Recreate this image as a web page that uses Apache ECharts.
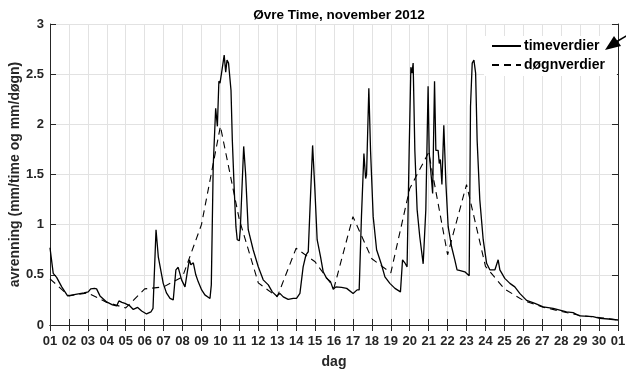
<!DOCTYPE html>
<html>
<head>
<meta charset="utf-8">
<script src="https://cdn.jsdelivr.net/npm/echarts@6/dist/echarts.min.js"></script>
<style>
  html, body { margin: 0; padding: 0; background: #fff; }
  #main { width: 626px; height: 370px; }
</style>
</head>
<body>
<div id="main"></div>
<script>
// timeverdier: tidspunkt (dag i november) og avrenning
var hourT = [1.00, 1.17, 1.35, 1.62, 1.93, 2.20, 2.50, 2.80, 3.02, 3.15, 3.23, 3.35, 3.46, 3.64, 3.99,
  4.30, 4.52, 4.64, 4.80, 4.96, 5.22, 5.40, 5.63, 5.84, 6.10, 6.33, 6.44, 6.60, 6.72, 6.98,
  7.15, 7.34, 7.51, 7.65, 7.77, 7.95, 8.13, 8.27, 8.36, 8.44, 8.57, 8.70, 8.83, 9.01, 9.18,
  9.45, 9.52, 9.62, 9.75, 9.84, 9.92, 9.98, 10.06, 10.20, 10.28, 10.35, 10.43, 10.49, 10.56, 10.63,
  10.73, 10.82, 10.89, 11.00, 11.05, 11.23, 11.33, 11.47, 11.73, 12.00, 12.26, 12.53, 12.74, 12.97, 13.14,
  13.32, 13.58, 13.85, 14.02, 14.20, 14.37, 14.52, 14.64, 14.73, 14.87, 14.99, 15.11, 15.29, 15.43, 15.61,
  15.82, 15.96, 16.10, 16.40, 16.67, 17.01, 17.22, 17.33, 17.45, 17.58, 17.67, 17.72, 17.84, 17.93, 18.07,
  18.25, 18.51, 18.69, 18.95, 19.22, 19.51, 19.62, 19.74, 19.86, 19.97, 20.06, 20.12, 20.18, 20.27, 20.39,
  20.53, 20.71, 20.85, 20.97, 21.03, 21.15, 21.21, 21.31, 21.38, 21.50, 21.56, 21.62, 21.70, 21.80, 21.91,
  22.03, 22.21, 22.38, 22.50, 22.62, 22.91, 23.14, 23.21, 23.30, 23.39, 23.48, 23.56, 23.70, 23.88, 24.06,
  24.23, 24.50, 24.67, 24.76, 25.02, 25.29, 25.55, 25.81, 26.17, 26.61, 27.05, 27.57, 28.28, 28.63, 28.98,
  29.68, 30.04, 30.50, 31.00];
var hourV = [0.77, 0.515, 0.475, 0.38, 0.29, 0.30, 0.31, 0.32, 0.33, 0.36, 0.375, 0.365, 0.36, 0.29, 0.23,
  0.20, 0.19, 0.24, 0.225, 0.215, 0.19, 0.155, 0.175, 0.14, 0.11, 0.13, 0.165, 0.95, 0.68, 0.415,
  0.32, 0.265, 0.25, 0.55, 0.575, 0.45, 0.38, 0.55, 0.65, 0.60, 0.62, 0.50, 0.43, 0.35, 0.30,
  0.265, 0.40, 1.58, 2.16, 1.98, 2.43, 2.41, 2.51, 2.69, 2.52, 2.64, 2.61, 2.62, 2.34, 1.84,
  1.35, 0.98, 0.85, 0.84, 0.95, 1.78, 1.51, 0.95, 0.75, 0.58, 0.45, 0.40, 0.33, 0.29, 0.315,
  0.28, 0.255, 0.265, 0.265, 0.315, 0.58, 0.70, 0.73, 1.15, 1.79, 1.35, 0.85, 0.68, 0.53, 0.465,
  0.43, 0.355, 0.38, 0.375, 0.365, 0.315, 0.35, 0.35, 1.08, 1.71, 1.46, 1.50, 2.36, 1.74, 1.08,
  0.75, 0.60, 0.48, 0.415, 0.365, 0.33, 0.65, 0.62, 0.58, 1.74, 2.57, 2.51, 2.61, 1.74, 1.15,
  0.88, 0.61, 1.15, 2.38, 1.71, 1.45, 1.31, 2.43, 1.74, 1.74, 1.61, 1.65, 1.40, 1.99, 1.41,
  0.98, 0.78, 0.65, 0.55, 0.545, 0.53, 0.49, 2.18, 2.61, 2.64, 2.51, 1.84, 1.25, 0.85, 0.615,
  0.55, 0.55, 0.65, 0.55, 0.465, 0.415, 0.38, 0.315, 0.245, 0.215, 0.18, 0.165, 0.13, 0.123, 0.09,
  0.083, 0.067, 0.06, 0.05];

// døgnverdier, ett punkt per dag
var dayT = [1, 2, 3, 4, 5, 6, 7, 8, 9, 10, 11, 12, 13, 14, 15, 16,
  17, 18, 19, 20, 21, 22, 23, 24, 25, 26, 27, 28, 29, 30, 31];
var dayV = [0.46, 0.29, 0.32, 0.225, 0.17, 0.36, 0.38, 0.48, 1.0, 1.98, 1.05, 0.42, 0.28, 0.765, 0.63, 0.37,
  1.08, 0.66, 0.52, 1.36, 1.72, 0.70, 1.40, 0.585, 0.36, 0.245, 0.18, 0.135, 0.095, 0.075, 0.05];

var dayLabels = ['01', '02', '03', '04', '05', '06', '07', '08', '09', '10', '11', '12', '13', '14', '15',
  '16', '17', '18', '19', '20', '21', '22', '23', '24', '25', '26', '27', '28', '29', '30', '01'];
var yLabels = ['0', '0.5', '1', '1.5', '2', '2.5', '3'];

var hourData = hourT.map(function (t, i) { return [t, hourV[i]]; });
var dayData = dayT.map(function (t, i) { return [t, dayV[i]]; });

var font = 'Liberation Sans, Arial, Helvetica, sans-serif';
var ink = '#262626';

var myChart = echarts.init(document.getElementById('main'));
myChart.setOption({
  animation: false,
  textStyle: { fontFamily: font },
  title: {
    text: 'Øvre Time, november 2012',
    left: 334, top: 3, textAlign: 'center',
    textStyle: { fontFamily: font, fontWeight: 'bold', fontSize: 13.5, color: '#000' }
  },
  grid: { left: 50, right: 8, top: 24, bottom: 45, outerBoundsMode: 'none', containLabel: false },
  legend: {
    data: ['timeverdier', 'døgnverdier'],
    orient: 'vertical',
    left: 484, top: 36,
    padding: [3, 12, 4, 7],
    itemWidth: 29, itemHeight: 12, itemGap: 5,
    backgroundColor: '#fff',
    itemStyle: { opacity: 0 },
    textStyle: { fontFamily: font, fontWeight: 'bold', fontSize: 14, color: '#000', padding: [0, 0, 0, -2] }
  },
  xAxis: [{
    type: 'value', min: 1, max: 31, interval: 1,
    name: 'dag', nameLocation: 'middle', nameGap: 30, nameMoveOverlap: false,
    nameTextStyle: { fontFamily: font, fontWeight: 'bold', fontSize: 14, color: ink },
    axisLine: { lineStyle: { color: ink, width: 1 } },
    axisTick: { inside: true, length: 6, lineStyle: { color: ink } },
    axisLabel: {
      margin: 10, fontFamily: font, fontWeight: 'bold', fontSize: 13, color: ink,
      formatter: function (v) { return dayLabels[Math.round(v) - 1]; }
    },
    splitLine: { show: true, lineStyle: { color: '#e2e2e2', width: 1 } }
  }, {
    type: 'value', min: 1, max: 31, interval: 1, position: 'top',
    axisLine: { lineStyle: { color: ink, width: 1 } },
    axisTick: { inside: true, length: 6, lineStyle: { color: ink } },
    axisLabel: { show: false },
    splitLine: { show: false }
  }],
  yAxis: [{
    type: 'value', min: 0, max: 3, interval: 0.5,
    name: 'avrenning (mm/time og mm/døgn)', nameLocation: 'middle', nameGap: 28, nameMoveOverlap: false,
    nameTextStyle: { fontFamily: font, fontWeight: 'bold', fontSize: 14, color: ink },
    axisLine: { show: true, lineStyle: { color: ink, width: 1 } },
    axisTick: { show: true, inside: true, length: 6, lineStyle: { color: ink } },
    axisLabel: {
      margin: 6, fontFamily: font, fontWeight: 'bold', fontSize: 13, color: ink,
      formatter: function (v) { return yLabels[Math.round(v * 2)]; }
    },
    splitLine: { show: true, lineStyle: { color: '#e2e2e2', width: 1 } }
  }, {
    type: 'value', min: 0, max: 3, interval: 0.5, position: 'right',
    axisLine: { show: true, lineStyle: { color: ink, width: 1 } },
    axisTick: { show: true, inside: true, length: 6, lineStyle: { color: ink } },
    axisLabel: { show: false },
    splitLine: { show: false }
  }],
  series: [{
    name: 'timeverdier', type: 'line', data: hourData,
    symbol: 'none', lineStyle: { color: '#000', width: 1.3 }, itemStyle: { color: '#000' }
  }, {
    name: 'døgnverdier', type: 'line', data: dayData,
    symbol: 'none', lineStyle: { color: '#000', width: 1.1, type: [7, 5] }, itemStyle: { color: '#000' }
  }],
  // pil i hjørnet oppe til høyre
  graphic: [{
    type: 'polygon', z: 100,
    shape: { points: [[605, 50], [614, 36], [621, 46]] },
    style: { fill: '#000' }
  }, {
    type: 'line', z: 100,
    shape: { x1: 616, y1: 42, x2: 628, y2: 35 },
    style: { stroke: '#000', lineWidth: 1.5 }
  }]
});
</script>
</body>
</html>
